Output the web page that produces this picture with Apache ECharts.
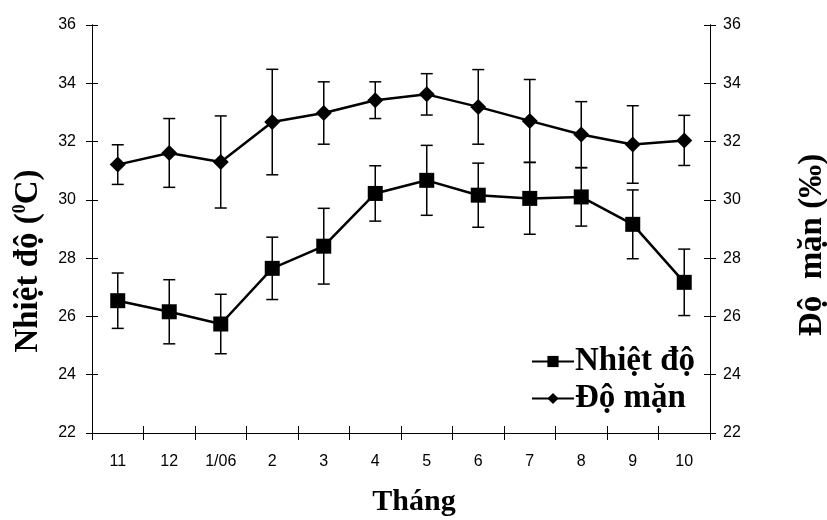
<!DOCTYPE html>
<html>
<head>
<meta charset="utf-8">
<script src="https://cdn.jsdelivr.net/npm/echarts@6/dist/echarts.min.js"></script>
<style>html,body{margin:0;padding:0;background:#fff;}#c{width:827px;height:520px;}</style>
</head>
<body>
<div id="c"></div>
<script>
var months = ['11', '12', '1/06', '2', '3', '4', '5', '6', '7', '8', '9', '10'];
var temperature = [26.54, 26.16, 25.74, 27.65, 28.41, 30.22, 30.67, 30.16, 30.05, 30.10, 29.16, 27.17];
var temperatureErr = [0.95, 1.10, 1.02, 1.07, 1.30, 0.95, 1.20, 1.10, 1.23, 1.00, 1.18, 1.14];
var salinity = [31.21, 31.61, 31.30, 32.67, 32.98, 33.42, 33.62, 33.19, 32.71, 32.24, 31.90, 32.04];
var salinityErr = [0.68, 1.18, 1.58, 1.81, 1.07, 0.63, 0.71, 1.28, 1.42, 1.13, 1.33, 0.86];
var yTicks = {min: 22, max: 36, interval: 2};

var SERIF = 'Liberation Serif, Times New Roman, serif';
var SANS = 'Liberation Sans, Arial, sans-serif';

function errData(vals, errs) {
  return vals.map(function (v, i) { return [i, v - errs[i], v + errs[i]]; });
}
function renderErr(params, api) {
  var x = api.value(0);
  var top = api.coord([x, api.value(2)]);
  var bot = api.coord([x, api.value(1)]);
  var w = 6;
  var st = {stroke: '#000', lineWidth: 1.5};
  return {type: 'group', children: [
    {type: 'line', shape: {x1: top[0], y1: top[1], x2: bot[0], y2: bot[1]}, style: st},
    {type: 'line', shape: {x1: top[0] - w, y1: top[1], x2: top[0] + w, y2: top[1]}, style: st},
    {type: 'line', shape: {x1: bot[0] - w, y1: bot[1], x2: bot[0] + w, y2: bot[1]}, style: st}
  ]};
}
function yAxisBase(pos, show, inside) {
  return {
    type: 'value', position: pos, min: yTicks.min, max: yTicks.max, interval: yTicks.interval,
    axisLine: {show: true, lineStyle: {color: '#000', width: 1}},
    axisTick: {show: true, inside: inside, length: 6, lineStyle: {color: '#000', width: 1}},
    axisLabel: {show: show, color: '#000', fontFamily: SANS, fontSize: 16, margin: pos === 'left' ? 16 : 13},
    splitLine: {show: false}
  };
}
var chart = echarts.init(document.getElementById('c'));
chart.setOption({
  backgroundColor: '#fff',
  animation: false,
  grid: {left: 92, right: 117, top: 25, bottom: 87, containLabel: false, outerBoundsMode: 'none'},
  xAxis: [
    {type: 'category', data: months, boundaryGap: true, position: 'bottom',
     axisLine: {lineStyle: {color: '#000', width: 1}},
     axisTick: {show: true, length: 7, inside: false, lineStyle: {color: '#000'}},
     axisLabel: {color: '#000', fontFamily: SANS, fontSize: 16, margin: 21},
     name: 'Tháng', nameLocation: 'middle', nameGap: 54,
     nameTextStyle: {color: '#000', fontFamily: SERIF, fontWeight: 'bold', fontSize: 30, padding: [0, 0, 0, 26]}},
    {type: 'category', data: months, boundaryGap: true, position: 'bottom',
     axisLine: {show: false},
     axisTick: {show: true, length: 7, inside: true, lineStyle: {color: '#000'}},
     axisLabel: {show: false}}
  ],
  yAxis: [
    yAxisBase('left', true, false),
    yAxisBase('right', true, false),
    yAxisBase('left', false, true),
    yAxisBase('right', false, true)
  ],
  legend: {
    orient: 'vertical', left: 526, top: 340, itemWidth: 42, itemHeight: 14, itemGap: 4,
    textStyle: {color: '#000', fontFamily: SERIF, fontWeight: 'bold', fontSize: 33, padding: [0, 0, 0, -4]},
    data: ['Nhiệt độ', 'Độ mặn']
  },
  graphic: [
    {type: 'text', x: 28, y: 261, rotation: Math.PI / 2,
     style: {text: '{a|Nhiệt độ (}{s|0}{a|C)}', align: 'center', verticalAlign: 'middle',
       rich: {a: {fontFamily: SERIF, fontWeight: 'bold', fontSize: 33, fill: '#000', color: '#000'},
              s: {fontFamily: SERIF, fontWeight: 'bold', fontSize: 18, fill: '#000', color: '#000', verticalAlign: 'top', padding: [0, 0, 14, 0]}}}},
    {type: 'text', x: 812, y: 245, rotation: Math.PI / 2,
     style: {text: 'Độ  mặn (‰)', align: 'center', verticalAlign: 'middle',
       fontFamily: SERIF, fontWeight: 'bold', fontSize: 33, fill: '#000'}}
  ],
  series: [
    {type: 'custom', name: 'errT', xAxisIndex: 0, yAxisIndex: 0, renderItem: renderErr,
     encode: {x: 0, y: [1, 2]}, data: errData(temperature, temperatureErr), z: 1},
    {type: 'custom', name: 'errS', xAxisIndex: 0, yAxisIndex: 1, renderItem: renderErr,
     encode: {x: 0, y: [1, 2]}, data: errData(salinity, salinityErr), z: 1},
    {type: 'line', name: 'Nhiệt độ', xAxisIndex: 0, yAxisIndex: 0, data: temperature,
     symbol: 'rect', symbolSize: 15, showAllSymbol: true,
     lineStyle: {color: '#000', width: 2.5}, itemStyle: {color: '#000'}, z: 3},
    {type: 'line', name: 'Độ mặn', xAxisIndex: 0, yAxisIndex: 1, data: salinity,
     symbol: 'diamond', symbolSize: 16, showAllSymbol: true,
     lineStyle: {color: '#000', width: 2.5}, itemStyle: {color: '#000'}, z: 3}
  ]
});
</script>
</body>
</html>
